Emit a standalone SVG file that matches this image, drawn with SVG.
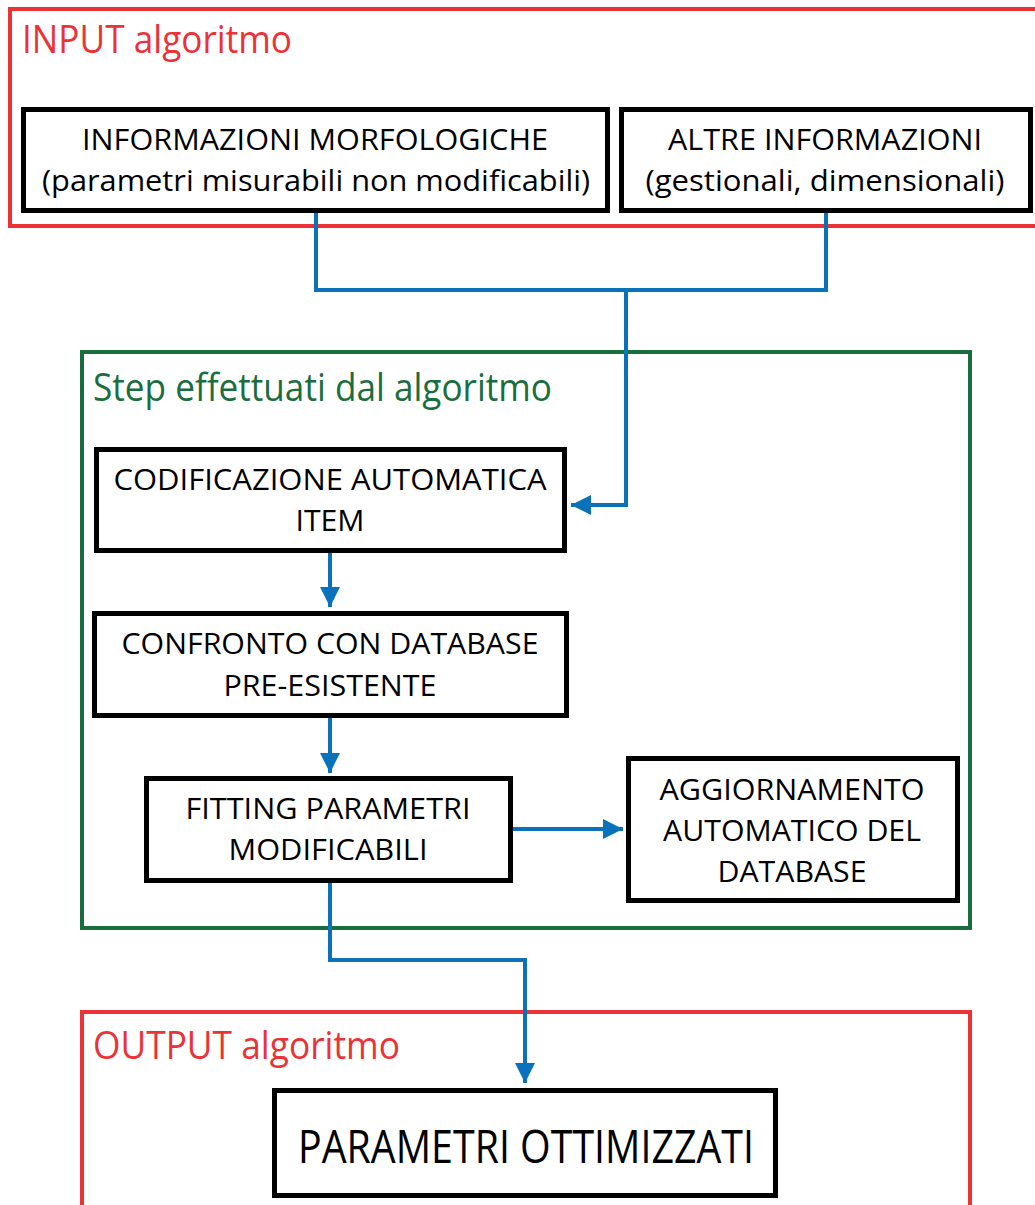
<svg xmlns="http://www.w3.org/2000/svg" width="1035" height="1205" viewBox="0 0 1035 1205">
  <defs>
    <style>
      .frame-red { fill: none; stroke: #ec3237; stroke-width: 4; }
      .frame-green { fill: none; stroke: #1a6e3e; stroke-width: 4; }
      .box { fill: #ffffff; stroke: #000000; stroke-width: 5; }
      .title-red { font-family: "Open Sans", "Liberation Sans", sans-serif; font-size: 38px; fill: #ec3237; }
      .title-green { font-family: "Open Sans", "Liberation Sans", sans-serif; font-size: 38px; fill: #1a6e3e; }
      .label { font-family: "Open Sans", "Liberation Sans", sans-serif; font-size: 30px; fill: #000000; text-anchor: middle; }
      .label-big { font-family: "Open Sans", "Liberation Sans", sans-serif; font-size: 45px; fill: #000000; text-anchor: middle; }
      .link { fill: none; stroke: #0a72bb; stroke-width: 4; }
    </style>
    <marker id="arrow" viewBox="0 0 10 10" refX="10" refY="5" markerWidth="5" markerHeight="5" markerUnits="strokeWidth" orient="auto">
      <path d="M0,0 L10,5 L0,10 Z" fill="#0a72bb"/>
    </marker>
  </defs>

  <rect width="1035" height="1205" fill="#ffffff"/>

  <!-- section frames -->
  <g id="input-section">
    <rect class="frame-red" x="10" y="9" width="1040" height="217"/>
    <text class="title-red" x="22" y="53" textLength="270" lengthAdjust="spacingAndGlyphs">INPUT algoritmo</text>
  </g>
  <g id="steps-section">
    <rect class="frame-green" x="82" y="352" width="888" height="576"/>
    <text class="title-green" x="93" y="401" textLength="459" lengthAdjust="spacingAndGlyphs">Step effettuati dal algoritmo</text>
  </g>
  <g id="output-section">
    <rect class="frame-red" x="82" y="1012" width="888" height="220"/>
    <text class="title-red" x="93" y="1059" textLength="307" lengthAdjust="spacingAndGlyphs">OUTPUT algoritmo</text>
  </g>

  <!-- connectors -->
  <g id="connectors">
    <polyline class="link" points="316,213 316,290 826,290 826,213"/>
    <polyline class="link" points="626,290 626,505 571,505" marker-end="url(#arrow)"/>
    <polyline class="link" points="330,553 330,607" marker-end="url(#arrow)"/>
    <polyline class="link" points="330,718 330,773" marker-end="url(#arrow)"/>
    <polyline class="link" points="513,829 623,829" marker-end="url(#arrow)"/>
    <polyline class="link" points="330,883 330,960 525,960 525,1083" marker-end="url(#arrow)"/>
  </g>

  <!-- nodes -->
  <g id="node-morfologiche">
    <rect class="box" x="23.5" y="109.5" width="584" height="101"/>
    <text class="label" x="315" y="150" textLength="466" lengthAdjust="spacingAndGlyphs">INFORMAZIONI MORFOLOGICHE</text>
    <text class="label" x="316" y="191" textLength="548" lengthAdjust="spacingAndGlyphs">(parametri misurabili non modificabili)</text>
  </g>
  <g id="node-altre">
    <rect class="box" x="621.5" y="109.5" width="409" height="101"/>
    <text class="label" x="825" y="150" textLength="314" lengthAdjust="spacingAndGlyphs">ALTRE INFORMAZIONI</text>
    <text class="label" x="825" y="191" textLength="359" lengthAdjust="spacingAndGlyphs">(gestionali, dimensionali)</text>
  </g>
  <g id="node-codifica">
    <rect class="box" x="96.5" y="449.5" width="468" height="101"/>
    <text class="label" x="330" y="490" textLength="433" lengthAdjust="spacingAndGlyphs">CODIFICAZIONE AUTOMATICA</text>
    <text class="label" x="330" y="531" textLength="69" lengthAdjust="spacingAndGlyphs">ITEM</text>
  </g>
  <g id="node-confronto">
    <rect class="box" x="94.5" y="613.5" width="472" height="102"/>
    <text class="label" x="330" y="654" textLength="417" lengthAdjust="spacingAndGlyphs">CONFRONTO CON DATABASE</text>
    <text class="label" x="330" y="696" textLength="213" lengthAdjust="spacingAndGlyphs">PRE-ESISTENTE</text>
  </g>
  <g id="node-fitting">
    <rect class="box" x="146.5" y="778.5" width="364" height="102"/>
    <text class="label" x="328" y="819" textLength="285" lengthAdjust="spacingAndGlyphs">FITTING PARAMETRI</text>
    <text class="label" x="328" y="860" textLength="199" lengthAdjust="spacingAndGlyphs">MODIFICABILI</text>
  </g>
  <g id="node-aggiornamento">
    <rect class="box" x="628.5" y="758.5" width="329" height="142"/>
    <text class="label" x="792" y="800" textLength="265" lengthAdjust="spacingAndGlyphs">AGGIORNAMENTO</text>
    <text class="label" x="792" y="841" textLength="258" lengthAdjust="spacingAndGlyphs">AUTOMATICO DEL</text>
    <text class="label" x="792" y="882" textLength="149" lengthAdjust="spacingAndGlyphs">DATABASE</text>
  </g>
  <g id="node-parametri">
    <rect class="box" x="274.5" y="1090.5" width="501" height="105"/>
    <text class="label-big" x="526" y="1163" textLength="456" lengthAdjust="spacingAndGlyphs">PARAMETRI OTTIMIZZATI</text>
  </g>
</svg>
